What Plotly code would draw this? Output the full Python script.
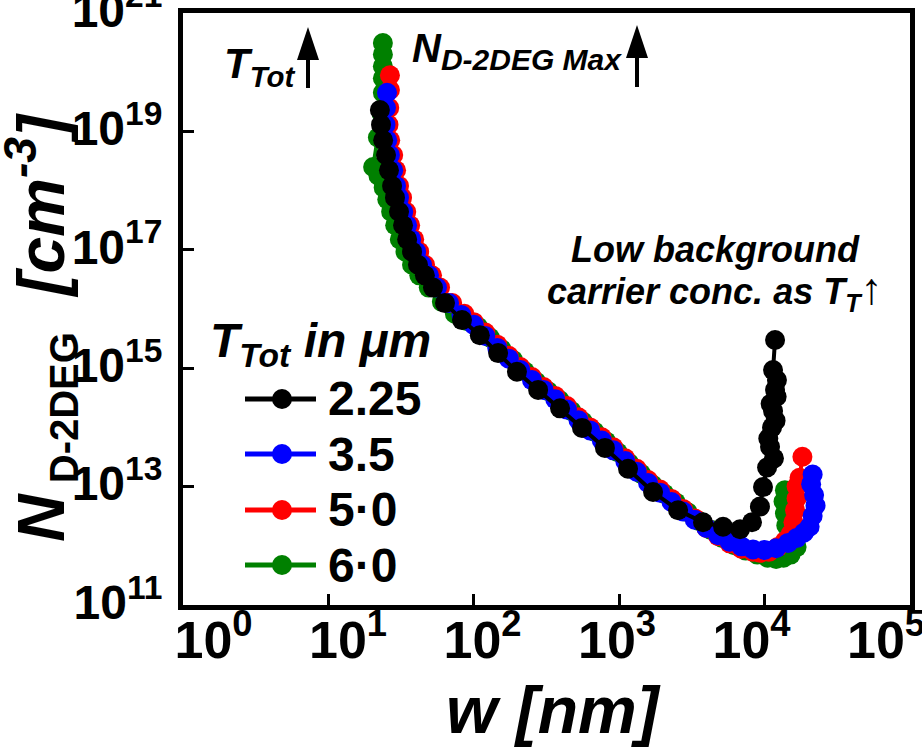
import plotly.graph_objects as go

# ---------------- data ----------------
series_names = ["2.25", "3.5", "5·0", "6·0"]
series_colors = ["#000000", "#0000FF", "#FF0000", "#008000"]

black_w = [22.6, 23.0, 23.8, 24.9, 26.1, 27.4, 28.7, 30.6, 32.6, 34.8, 37.6, 41.3, 46.1, 52.4,
           63.4, 83.0, 110, 147, 198, 277, 392, 555, 798, 1150, 1710, 2540, 3770, 5180, 6780,
           8190, 9290, 9750, 10400, 11600, 10600, 10900, 11900, 11250, 11000, 11430, 12100,
           11800, 12160, 11430, 11800]
black_n = [2.3e19, 1.3e19, 7.1e18, 4.0e18, 2.2e18, 1.2e18, 7.6e17, 4.4e17, 2.6e17, 1.5e17, 9.3e16,
           5.6e16, 3.7e16, 2.3e16, 1.26e16, 6.5e15, 3.6e15, 1.8e15, 8.7e14, 4.3e14, 2.1e14, 9.8e13,
           4.5e13, 2.0e13, 8.1e12, 4.0e12, 2.5e12, 2.1e12, 1.9e12, 2.5e12, 4.6e12, 9.8e12, 2.1e13,
           3.0e13, 6.5e13, 4.7e13, 1.3e14, 1.0e14, 2.5e14, 1.9e14, 3.3e14, 4.3e14, 6.3e14, 9.3e14,
           3.0e15]

blue_w = [25.3, 24.9, 24.7, 25.4, 26.5, 27.9, 29.2, 30.6, 32.7, 34.8, 37.1, 40.1, 44.1, 49.2, 55.8,
          67.6, 82.2, 100, 120, 145, 174, 209, 251, 302, 363, 437, 525, 631, 759, 912, 1100, 1320,
          1580, 1910, 2290, 2750, 3310, 3980, 4790, 5750, 6920, 8320, 10000, 12000, 14500, 16600,
          18600, 20400, 21400, 22400, 21900, 20900, 21400]
blue_n = [4.5e19, 2.5e19, 1.3e19, 7.1e18, 4.0e18, 2.2e18, 1.2e18, 7.6e17, 4.4e17, 2.6e17, 1.5e17,
          9.3e16, 5.6e16, 3.7e16, 2.3e16, 1.26e16, 7.9e15, 5.4e15, 3.5e15, 2.2e15, 1.45e15, 9.3e14,
          6.3e14, 4.3e14, 3.0e14, 2.0e14, 1.32e14, 8.9e13, 6.0e13, 4.1e13, 2.7e13, 1.78e13, 1.15e13,
          7.9e12, 5.5e12, 3.8e12, 2.75e12, 2.0e12, 1.51e12, 1.17e12, 9.8e11, 8.7e11, 8.5e11, 9.1e11,
          1.12e12, 1.35e12, 1.66e12, 2.1e12, 3.2e12, 4.8e12, 7.2e12, 1.1e13, 1.6e13]

red_w = [26.5, 26.5, 26.2, 25.9, 26.6, 27.9, 29.2, 30.6, 32.1, 34.3, 36.5, 38.9, 42.1, 46.2, 51.6,
         58.6, 71.0, 86.1, 100, 120, 145, 174, 209, 251, 302, 363, 437, 525, 631, 759, 912, 1100,
         1320, 1580, 1910, 2290, 2750, 3310, 3980, 4790, 5750, 6920, 8320, 9330, 10700, 12300,
         13800, 15100, 15800, 16200, 16600, 16600, 17400, 18200]
red_n = [8.9e19, 5.0e19, 2.5e19, 1.3e19, 7.1e18, 4.0e18, 2.2e18, 1.2e18, 7.6e17, 4.4e17, 2.6e17,
         1.5e17, 9.3e16, 5.6e16, 3.7e16, 2.3e16, 1.26e16, 8.3e15, 6.0e15, 4.0e15, 2.5e15, 1.62e15,
         1.05e15, 7.1e14, 4.8e14, 3.4e14, 2.3e14, 1.48e14, 1.0e14, 6.8e13, 4.6e13, 3.0e13, 2.0e13,
         1.29e13, 8.9e12, 6.2e12, 4.2e12, 2.9e12, 2.0e12, 1.45e12, 1.1e12, 8.9e11, 7.9e11, 7.6e11,
         7.9e11, 9.5e11, 1.2e12, 1.58e12, 2.5e12, 4.0e12, 6.3e12, 1.0e13, 1.41e13, 3.2e13]

green_w = [23.7, 23.7, 23.7, 23.7, 23.7, 23.2, 21.9, 20.3, 22.1, 24.0, 25.4, 27.0, 28.8, 31.0, 33.9,
           37.6, 42.2, 49.0, 60.3, 74.1, 89.1, 107, 129, 155, 186, 224, 269, 324, 389, 468, 562,
           676, 813, 977, 1170, 1410, 1700, 2040, 2450, 2950, 3550, 4270, 5130, 6170, 7410, 8910,
           10500, 12000, 13500, 15100, 16600, 15100, 14100, 13800, 13500, 13800]
green_n = [3.1e20, 2.0e20, 1.26e20, 7.9e19, 4.5e19, 2.0e19, 7.9e18, 2.5e18, 1.78e18, 1.12e18, 7.1e17,
           4.4e17, 2.6e17, 1.5e17, 9.3e16, 5.6e16, 3.7e16, 2.3e16, 1.32e16, 8.3e15, 6.3e15, 5.0e15,
           3.3e15, 2.1e15, 1.38e15, 8.9e14, 5.9e14, 4.1e14, 2.9e14, 1.9e14, 1.26e14, 8.5e13, 5.8e13,
           3.8e13, 2.5e13, 1.66e13, 1.07e13, 7.6e12, 5.4e12, 3.7e12, 2.6e12, 1.86e12, 1.35e12,
           1.02e12, 8.3e11, 7.1e11, 6.3e11, 6.0e11, 6.3e11, 7.1e11, 9.5e11, 1.41e12, 2.2e12, 3.5e12,
           5.6e12, 8.7e12]

x_tick_vals = [1, 10, 100, 1e3, 1e4, 1e5]
x_tick_text = ["10<sup>0</sup>", "10<sup>1</sup>", "10<sup>2</sup>", "10<sup>3</sup>",
               "10<sup>4</sup>", "10<sup>5</sup>"]
y_tick_vals = [1e11, 1e13, 1e15, 1e17, 1e19, 1e21]
y_tick_text = ["10<sup>11</sup>", "10<sup>13</sup>", "10<sup>15</sup>", "10<sup>17</sup>",
               "10<sup>19</sup>", "10<sup>21</sup>"]

# ---------------- layout geometry ----------------
W, H = 922, 749
L, R, T, B = 183, 910, 13, 605
FONT = "Liberation Sans, Arial, Helvetica, sans-serif"
NARROW = "Liberation Sans Narrow, Arial Narrow, Liberation Sans, Arial, sans-serif"


def px(x):
    return (x - L) / (R - L)


def py(y):
    return (B - y) / (B - T)


fig = go.Figure()
all_data = {
    "2.25": (black_w, black_n),
    "3.5": (blue_w, blue_n),
    "5·0": (red_w, red_n),
    "6·0": (green_w, green_n),
}
# draw green first, black last (black on top)
for name, col in reversed(list(zip(series_names, series_colors))):
    w, n = all_data[name]
    fig.add_trace(go.Scatter(
        x=w, y=n, mode="lines+markers", name=name,
        line=dict(color=col, width=4),
        marker=dict(size=20, color=col, line=dict(width=0)),
        showlegend=False,
        xaxis="x2" if name == "2.25" else "x",
    ))

axis_common = dict(showgrid=False, zeroline=False, showline=True, linewidth=5,
                   linecolor="black", mirror=True, ticks="inside", ticklen=11,
                   tickwidth=3, tickcolor="black", automargin=False)

# tick labels in the reference are spread evenly inside the frame
label_pos = [10 ** (0.21 + 0.925 * k) for k in range(6)]

fig.update_layout(
    width=W, height=H,
    margin=dict(l=L, r=W - R, t=T, b=H - B),
    plot_bgcolor="white", paper_bgcolor="white",
    showlegend=False,
    xaxis=dict(type="log", range=[0, 5], tickvals=x_tick_vals, ticktext=["" for _ in x_tick_vals],
               **axis_common),
    xaxis2=dict(type="log", range=[0, 5], overlaying="x", anchor="y", side="bottom",
                tickvals=label_pos, ticktext=x_tick_text, ticks="", showline=False,
                showgrid=False, zeroline=False, automargin=False, ticklabeloverflow="allow",
                tickfont=dict(family=NARROW, size=52, color="black", weight="bold")),
    yaxis=dict(type="log", range=[11, 21.0001], tickvals=y_tick_vals, ticktext=y_tick_text,
               ticklabeloverflow="allow", ticklabelstandoff=6, ticklabelshift=-3,
               tickfont=dict(family=FONT, size=48, color="black", weight="bold"),
               **axis_common),
)

ann = []
BI = dict(family=FONT, color="black", weight="bold", style="italic")

# axis titles
ann.append(dict(text="w [nm]", x=px(553), y=py(710), xref="paper", yref="paper",
                xanchor="center", yanchor="middle", showarrow=False,
                font=dict(size=66, **BI)))
ann.append(dict(text="N<sub><span style='font-style:normal;font-size:40px'> D-2DEG</span></sub>  [cm<sup>-3</sup>]",
                x=px(40), y=py(328), xref="paper", yref="paper", textangle=-90,
                xanchor="center", yanchor="middle", showarrow=False,
                font=dict(size=66, **BI)))

# annotations inside plot
ann.append(dict(text="T<sub>Tot</sub>", x=px(222), y=py(38), xref="paper", yref="paper",
                xanchor="left", yanchor="top", showarrow=False, font=dict(size=42, **BI)))
ann.append(dict(text="N<sub><span style='font-size:30px'>D-2DEG Max</span></sub>", x=px(410), y=py(24),
                xref="paper", yref="paper",
                xanchor="left", yanchor="top", showarrow=False, font=dict(size=40, **BI)))
ann.append(dict(text="Low background", x=px(715), y=py(249), xref="paper", yref="paper",
                xanchor="center", yanchor="middle", showarrow=False, font=dict(size=36, **BI)))
ann.append(dict(text="carrier conc. as T<sub>T</sub><span style='font-weight:normal;font-style:normal;font-size:44px'>↑</span>",
                x=px(715), y=py(290), xref="paper", yref="paper",
                xanchor="center", yanchor="middle", showarrow=False, font=dict(size=36, **BI)))

# legend (drawn by hand to match the reference)
ann.append(dict(text="T<sub>Tot</sub> in μm", x=px(208), y=py(312), xref="paper", yref="paper",
                xanchor="left", yanchor="top", showarrow=False, font=dict(size=48, **BI)))
shapes = []
leg_y = [399, 454, 510, 565]
for name, col, yy in zip(series_names, series_colors, leg_y):
    shapes.append(dict(type="line", xref="paper", yref="paper", x0=px(245), x1=px(316),
                       y0=py(yy), y1=py(yy), line=dict(color=col, width=5)))
    shapes.append(dict(type="circle", xref="paper", yref="paper", x0=px(272), x1=px(292),
                       y0=py(yy + 10), y1=py(yy - 10), fillcolor=col, line=dict(width=0)))
    ann.append(dict(text=name, x=px(326), y=py(yy), xref="paper", yref="paper",
                    xanchor="left", yanchor="middle", showarrow=False,
                    font=dict(family=FONT, size=48, color="black", weight="bold")))

# thick arrows
for ax_, apex, base, bottom in [(308, 27, 60, 88), (637, 25, 58, 87)]:
    shapes.append(dict(type="line", xref="paper", yref="paper", x0=px(ax_), x1=px(ax_),
                       y0=py(bottom), y1=py(base - 2), line=dict(color="black", width=4)))
    shapes.append(dict(type="path", xref="paper", yref="paper",
                       path=f"M {px(ax_ - 11)} {py(base)} L {px(ax_)} {py(apex)} L {px(ax_ + 11)} {py(base)} Z",
                       fillcolor="black", line=dict(width=0)))

fig.update_layout(annotations=ann, shapes=shapes)
fig.write_html("out.html")
